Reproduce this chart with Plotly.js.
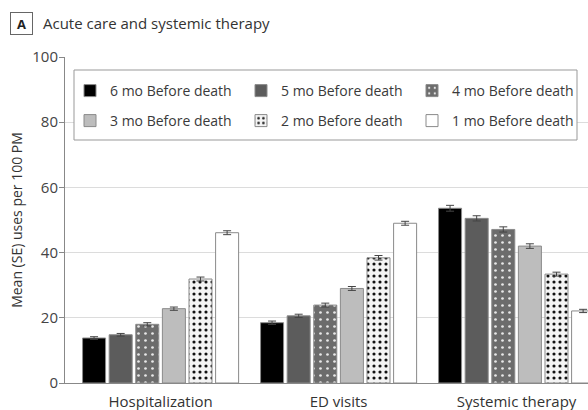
<!DOCTYPE html>
<html><head><meta charset="utf-8">
<script src="https://cdn.plot.ly/plotly-3.0.1.min.js"></script>
<style>body{margin:0;background:#fff}#chart{width:588px;height:410px}</style>
</head><body><div id="chart"></div>
<script>
const categories = ["Hospitalization", "ED visits", "Systemic therapy"];
const seriesNames = ["6 mo Before death", "5 mo Before death", "4 mo Before death",
                     "3 mo Before death", "2 mo Before death", "1 mo Before death"];
const mo6 = [13.8, 18.5, 53.6];
const mo5 = [14.8, 20.6, 50.5];
const mo4 = [18.0, 23.9, 47.1];
const mo3 = [22.8, 29.0, 42.0];
const mo2 = [31.9, 38.4, 33.4];
const mo1 = [46.1, 49.0, 22.1];
const se6 = [0.4, 0.5, 0.9];
const se5 = [0.4, 0.5, 0.8];
const se4 = [0.5, 0.6, 0.8];
const se3 = [0.5, 0.6, 0.7];
const se2 = [0.6, 0.7, 0.6];
const se1 = [0.6, 0.6, 0.5];

const values = [mo6, mo5, mo4, mo3, mo2, mo1];
const errors = [se6, se5, se4, se3, se2, se1];
const fills = ["#000000", "#5c5c5c", "#6c6c6c", "#bdbdbd", "#f4f4f4", "#ffffff"];
const patterns = [null, null,
  {shape: ".", fgcolor: "#e8e8e8", bgcolor: "#6c6c6c", size: 7, solidity: 0.12},
  null,
  {shape: ".", fgcolor: "#111111", bgcolor: "#f4f4f4", size: 6, solidity: 0.22},
  null];
const legendOf = ["legend", "legend", "legend", "legend2", "legend2", "legend2"];

const traces = values.map((v, i) => {
  const m = {color: fills[i], line: {color: "#8a8a8a", width: 1}};
  if (patterns[i]) m.pattern = patterns[i];
  return {
    type: "bar", name: seriesNames[i], x: categories, y: v,
    marker: m, legend: legendOf[i],
    error_y: {type: "data", array: errors[i], visible: true, color: "#444", thickness: 1, width: 4},
    hoverinfo: "skip"
  };
});

const FONT = "Open Sans, Noto Sans, sans-serif";
const PW = 523, PH = 326, L = 65, T = 57;
const px = (x) => (x - L) / PW;
const py = (y) => 1 - (y - T) / PH;
const legendBase = {orientation: "h", xanchor: "left", yanchor: "middle",
  borderwidth: 0, bgcolor: "rgba(0,0,0,0)", entrywidth: 126, entrywidthmode: "pixels",
  font: {size: 14, color: "#3a3a3a"}, traceorder: "normal"};

const layout = {
  width: 588, height: 410,
  margin: {l: L, r: 0, t: T, b: 27},
  paper_bgcolor: "#fff", plot_bgcolor: "#fff",
  font: {family: FONT, size: 14, color: "#333"},
  barmode: "group", bargap: 0.103, bargroupgap: 0.135,
  title: {text: "Acute care and systemic therapy", x: 43/588, xref: "container", xanchor: "left",
          y: 1 - 24/410, yref: "container", yanchor: "middle",
          font: {family: FONT, size: 15, color: "#333"}},
  annotations: [{text: "<b>A</b>", xref: "paper", yref: "paper", x: px(21.5), y: py(23.5),
                 xanchor: "center", yanchor: "middle", showarrow: false,
                 font: {family: FONT, size: 13, color: "#222"},
                 bordercolor: "#666", borderwidth: 1, borderpad: 2, width: 17, height: 17}],
  shapes: [{type: "rect", xref: "paper", yref: "paper", x0: px(74), x1: px(577), y0: py(140), y1: py(70),
            line: {color: "#999", width: 1}, fillcolor: "#fff", layer: "above"}],
  xaxis: {range: [-0.537, -0.537 + PW/178], showgrid: false, showline: true, linecolor: "#888",
          linewidth: 1, ticks: "", tickfont: {size: 15, color: "#333"}, ticklabelstandoff: 5,
          fixedrange: true},
  yaxis: {range: [0, 100], tickvals: [0, 20, 40, 60, 80, 100], showgrid: true, gridcolor: "#dcdcdc",
          showline: true, linecolor: "#888", linewidth: 1, ticks: "outside", ticklen: 5,
          tickcolor: "#888", zeroline: false, tickfont: {size: 15, color: "#444"},
          ticklabelstandoff: -2,
          title: {text: "Mean (SE) uses per 100 PM", font: {size: 14, color: "#333"}, standoff: 6}},
  legend: Object.assign({}, legendBase, {x: px(70), y: py(91)}),
  legend2: Object.assign({}, legendBase, {x: px(70), y: py(121)}),
  showlegend: true
};
Plotly.newPlot("chart", traces, layout, {staticPlot: true, displayModeBar: false});
</script></body></html>
